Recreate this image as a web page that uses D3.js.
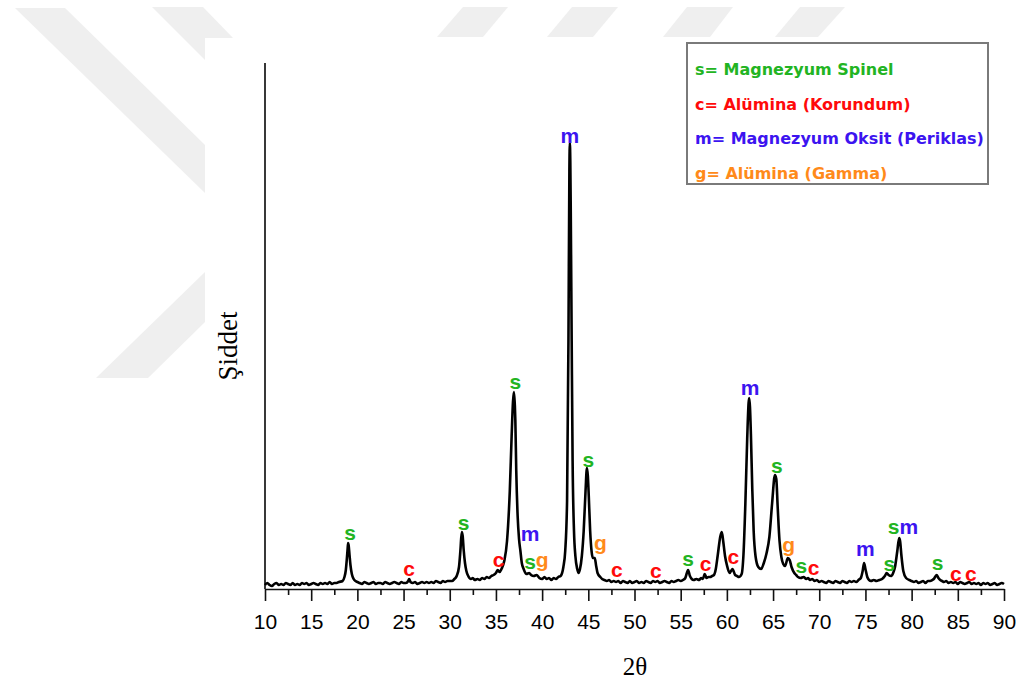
<!DOCTYPE html>
<html>
<head>
<meta charset="utf-8">
<script src="https://cdn.jsdelivr.net/npm/d3@7"></script>
<style>
  body { margin: 0; background: #fff; }
</style>
</head>
<body>
<svg id="chart" width="1019" height="681"></svg>
<script>
// XRD pattern: [2theta, intensity (arb. units)]
var pattern = [
  [10.0, 4], [10.25, 6], [10.5, 4], [10.75, 3], [11.0, 5], [11.25, 6], [11.5, 4], [11.75, 5],
  [12.0, 4], [12.25, 6], [12.5, 5], [12.75, 4], [13.0, 6], [13.25, 4], [13.5, 5], [13.75, 4],
  [14.0, 6], [14.25, 5], [14.5, 6], [14.75, 4], [15.0, 5], [15.25, 6], [15.5, 5], [15.75, 4],
  [16.0, 6], [16.25, 5], [16.5, 6], [16.75, 5], [17.0, 7], [17.25, 5], [17.5, 6], [17.75, 6], [18.0, 7],
  [18.4, 8], [18.6, 12], [18.75, 19], [18.85, 29], [18.95, 41], [19.0, 46], [19.05, 44], [19.15, 34],
  [19.25, 24], [19.4, 15], [19.6, 10], [19.8, 8],
  [20.0, 7], [20.25, 6], [20.5, 5], [20.75, 7], [21.0, 6], [21.25, 5], [21.5, 6], [21.75, 7],
  [22.0, 5], [22.25, 6], [22.5, 6], [22.75, 5], [23.0, 7], [23.25, 6], [23.5, 5], [23.75, 6],
  [24.0, 7], [24.25, 6], [24.5, 5], [24.75, 7], [25.0, 6], [25.25, 6], [25.5, 8], [25.6, 10], [25.75, 7],
  [26.0, 6], [26.25, 7], [26.5, 5], [26.75, 6], [27.0, 7], [27.25, 6], [27.5, 7], [27.75, 6],
  [28.0, 7], [28.25, 6], [28.5, 8], [28.75, 7], [29.0, 6], [29.25, 8], [29.5, 7], [29.75, 8], [30.0, 8],
  [30.25, 8], [30.5, 10], [30.75, 13], [31.0, 22], [31.15, 38], [31.3, 57], [31.4, 53], [31.5, 40],
  [31.65, 26], [31.8, 18], [32.0, 13], [32.3, 10], [32.5, 11], [32.7, 9], [33.0, 10], [33.25, 9],
  [33.5, 11], [33.75, 10], [34.0, 12], [34.25, 11], [34.5, 13], [34.75, 14], [35.0, 16], [35.2, 19],
  [35.4, 17], [35.6, 20], [35.9, 28], [36.2, 48], [36.5, 98], [36.7, 153], [36.85, 188], [36.95, 197],
  [37.05, 183], [37.1, 169], [37.2, 118], [37.35, 73], [37.5, 50], [37.65, 38], [37.8, 26],
  [38.0, 20], [38.3, 15], [38.6, 16], [38.8, 14], [39.1, 13], [39.4, 14], [39.7, 11],
  [40.0, 10], [40.25, 12], [40.5, 10], [40.75, 11], [41.0, 9], [41.25, 11], [41.5, 10], [41.75, 12],
  [42.0, 13], [42.3, 22], [42.5, 38], [42.7, 88], [42.85, 248], [42.95, 418], [43.0, 446],
  [43.05, 428], [43.1, 378], [43.2, 248], [43.3, 128], [43.45, 58], [43.6, 33], [43.8, 20],
  [43.95, 16], [44.1, 20], [44.3, 33], [44.5, 58], [44.7, 98], [44.85, 121], [44.95, 113],
  [45.05, 93], [45.2, 58], [45.35, 38], [45.5, 31], [45.7, 31], [45.85, 23], [46.0, 16], [46.3, 12],
  [46.5, 10], [46.75, 9], [47.0, 8], [47.25, 9], [47.5, 7], [47.75, 8], [48.0, 7], [48.25, 8],
  [48.5, 6], [48.75, 8], [49.0, 7], [49.25, 6], [49.5, 8], [49.75, 6], [50.0, 7], [50.25, 8],
  [50.5, 6], [50.75, 7], [51.0, 6], [51.25, 8], [51.5, 7], [51.75, 6], [52.0, 8], [52.25, 7],
  [52.5, 8], [52.75, 6], [53.0, 7], [53.25, 8], [53.5, 7], [53.75, 6], [54.0, 8], [54.25, 7],
  [54.5, 8], [54.75, 9], [55.0, 8], [55.25, 9], [55.5, 11], [55.8, 19], [56.0, 13], [56.2, 10],
  [56.4, 9], [56.7, 10], [57.0, 9], [57.2, 11], [57.4, 10], [57.6, 15], [57.8, 11], [58.0, 12],
  [58.2, 12], [58.4, 13], [58.6, 14], [58.8, 20], [59.0, 33], [59.3, 53], [59.45, 57], [59.6, 48],
  [59.8, 33], [60.0, 24], [60.3, 16], [60.6, 20], [60.9, 14], [61.1, 13], [61.3, 12], [61.6, 15],
  [61.8, 35], [62.0, 85], [62.2, 150], [62.35, 186], [62.42, 191], [62.5, 182], [62.6, 155],
  [62.75, 100], [62.9, 58], [63.1, 33], [63.4, 22], [63.7, 20], [64.0, 26], [64.3, 36], [64.6, 52],
  [64.9, 86], [65.2, 114], [65.35, 110], [65.5, 82], [65.7, 48], [65.9, 32], [66.1, 25], [66.3, 23],
  [66.6, 31], [66.8, 29], [67.0, 22], [67.3, 16], [67.5, 14], [67.7, 12], [68.0, 11], [68.3, 12],
  [68.6, 10], [68.8, 11], [69.0, 9], [69.25, 10], [69.5, 8], [69.75, 9], [70.0, 7], [70.25, 8],
  [70.5, 7], [70.75, 6], [71.0, 8], [71.25, 7], [71.5, 6], [71.75, 8], [72.0, 7], [72.25, 6],
  [72.5, 8], [72.75, 7], [73.0, 6], [73.25, 8], [73.5, 7], [73.75, 8], [74.0, 7], [74.25, 9],
  [74.5, 11], [74.7, 18], [74.85, 26], [75.0, 20], [75.2, 12], [75.4, 9], [75.6, 8], [75.9, 9],
  [76.2, 8], [76.5, 9], [76.8, 10], [77.1, 13], [77.3, 16], [77.5, 14], [77.8, 13], [78.0, 16],
  [78.2, 22], [78.45, 38], [78.65, 51], [78.75, 48], [78.9, 33], [79.1, 18], [79.4, 11],
  [79.75, 9], [80.0, 8], [80.25, 7], [80.5, 8], [80.75, 6], [81.0, 7], [81.25, 8], [81.5, 6],
  [81.75, 8], [82.0, 8], [82.25, 9], [82.4, 10], [82.7, 14], [82.9, 11], [83.1, 9], [83.3, 8],
  [83.5, 7], [83.75, 8], [84.0, 6], [84.25, 7], [84.5, 6], [84.75, 7], [85.0, 5], [85.25, 7],
  [85.5, 6], [85.75, 5], [86.0, 6], [86.25, 7], [86.5, 5], [86.75, 6], [87.0, 5], [87.25, 6],
  [87.5, 4], [87.75, 6], [88.0, 5], [88.25, 6], [88.5, 4], [88.75, 5], [89.0, 6], [89.25, 4],
  [89.5, 5], [89.75, 6], [90.0, 5]
]

// phase letters over the peaks
var peakLetter = ["s", "c", "s", "c", "s", "m", "s", "g", "m", "s", "g", "c", "c", "s",
                  "c", "c", "m", "s", "g", "s", "c", "m", "s", "s", "m", "s", "c", "c"]
var peakTheta = [19.2, 25.6, 31.5, 35.3, 37.1, 38.7, 38.7, 40.0, 43.0, 45.0, 46.3, 48.1, 52.3, 55.8,
                 57.7, 60.7, 62.5, 65.4, 66.7, 68.05, 69.4, 75.0, 77.6, 78.05, 79.7, 82.8, 84.8, 86.4]
var peakLabelY = [49, 13, 59, 22, 200, 48, 20, 22, 446, 122, 39, 12, 11, 23,
                  18, 25, 194, 116, 37, 16, 14, 33, 18, 55, 55, 19, 8, 8]

var legendLetter = ["s", "c", "m", "g"]
var legendText = ["s= Magnezyum Spinel", "c= Alümina (Korundum)",
                  "m= Magnezyum Oksit (Periklas)", "g= Alümina (Gamma)"]
var phaseColor = { s: "#22b422", c: "#ff0a0a", m: "#3c14f0", g: "#ff8a1a" }

var majorTicks = d3.range(10, 91, 5)
var minorTicks = d3.range(12.5, 90, 5)

var svg = d3.select("#chart")

// faint background watermark of the source page
var watermark = [
  [[15, 8], [65, 8], [205, 145], [205, 193]],
  [[152, 7], [203, 7], [233, 38], [205, 38], [205, 60]],
  [[96, 378], [148, 378], [205, 322], [205, 272]],
  [[463, 7], [508, 7], [483, 37], [437, 37]],
  [[572, 7], [618, 7], [593, 37], [547, 37]],
  [[687, 7], [733, 7], [710, 37], [663, 37]],
  [[800, 7], [845, 7], [818, 37], [775, 37]]
]
svg.append("g").selectAll("polygon")
    .data(watermark)
    .join("polygon")
    .attr("points", function(d) { return d.join(" ") })
    .attr("fill", "#efefef")

var x = d3.scaleLinear().domain([10, 90]).range([265, 1004])
var y = d3.scaleLinear().domain([0, 526]).range([589, 63])

// minor ticks
svg.append("g")
    .attr("transform", "translate(0," + y(0) + ")")
    .call(d3.axisBottom(x).tickValues(minorTicks).tickSize(6).tickFormat(""))
    .call(function(g) { g.select(".domain").remove() })
    .selectAll("line").attr("stroke", "#111").attr("stroke-width", 1.6)

// major ticks + labels
var xAxis = svg.append("g")
    .attr("transform", "translate(0," + y(0) + ")")
    .call(d3.axisBottom(x).tickValues(majorTicks).tickSize(12).tickSizeOuter(0).tickFormat(d3.format("d")))
xAxis.select(".domain").attr("stroke", "#111").attr("stroke-width", 1.6)
xAxis.selectAll("line").attr("stroke", "#111").attr("stroke-width", 1.6)
xAxis.selectAll("text")
    .attr("y", 40).attr("dy", 0)
    .attr("fill", "#000")
    .style("font-family", "'Liberation Sans', Arial, sans-serif")
    .style("font-size", "21px")

// y axis, bare line
svg.append("line")
    .attr("x1", x(10)).attr("x2", x(10))
    .attr("y1", y(0)).attr("y2", y(526))
    .attr("stroke", "#222").attr("stroke-width", 1.8)

var line = d3.line()
    .curve(d3.curveMonotoneX)
    .x(function(d) { return x(d[0]) })
    .y(function(d) { return y(d[1]) })

svg.append("path")
    .datum(pattern)
    .attr("d", line)
    .attr("fill", "none")
    .attr("stroke", "#000")
    .attr("stroke-width", 2.6)
    .attr("stroke-linejoin", "round")

svg.append("g").selectAll("text")
    .data(peakLetter)
    .join("text")
    .attr("x", function(d, i) { return x(peakTheta[i]) })
    .attr("y", function(d, i) { return y(peakLabelY[i]) })
    .attr("text-anchor", "middle")
    .attr("fill", function(d) { return phaseColor[d] })
    .style("font-family", "'Liberation Sans', Arial, sans-serif")
    .style("font-weight", "bold")
    .style("font-size", "21px")
    .text(function(d) { return d })

// axis titles
svg.append("text")
    .attr("x", 635).attr("y", 675)
    .attr("text-anchor", "middle")
    .style("font-family", "'Liberation Serif', 'Times New Roman', serif")
    .style("font-size", "25px")
    .text("2θ")
svg.append("text")
    .attr("transform", "translate(237,346) rotate(-90)")
    .attr("text-anchor", "middle")
    .style("font-family", "'Liberation Serif', 'Times New Roman', serif")
    .style("font-size", "27px")
    .text("Şiddet")

// legend
var legend = svg.append("g")
legend.append("rect")
    .attr("x", 687).attr("y", 43)
    .attr("width", 301).attr("height", 141)
    .attr("fill", "#fff")
    .attr("stroke", "#7a7a7a").attr("stroke-width", 2)
legend.selectAll("text")
    .data(legendText)
    .join("text")
    .attr("x", 695)
    .attr("y", function(d, i) { return 75 + i * 34.7 })
    .attr("fill", function(d, i) { return phaseColor[legendLetter[i]] })
    .style("font-family", "'DejaVu Sans', Verdana, sans-serif")
    .style("font-weight", "bold")
    .style("font-size", "16px")
    .text(function(d) { return d })
</script>
</body>
</html>
